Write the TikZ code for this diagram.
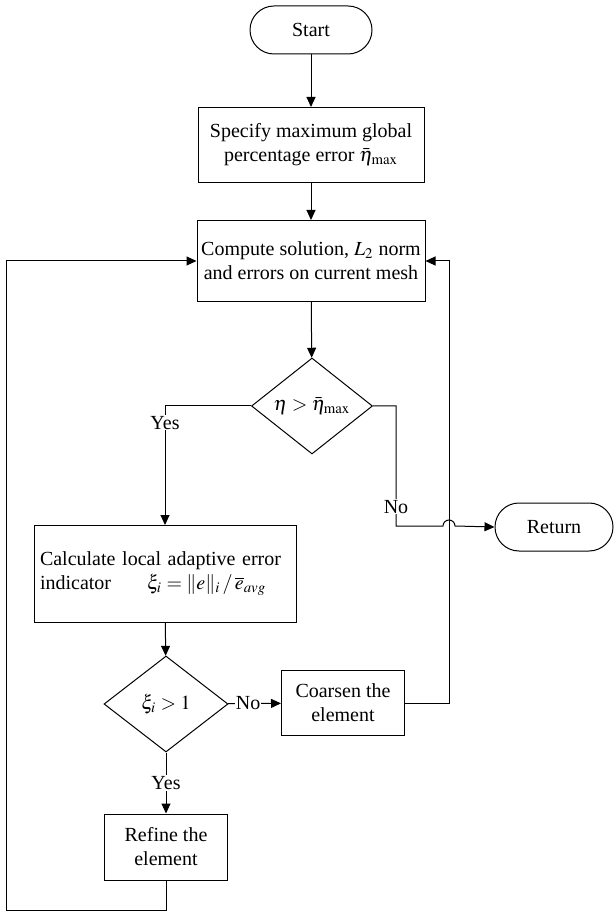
\documentclass[tikz,border=0pt]{standalone}
\usepackage{mathptmx}
\usepackage[no-math]{fontspec}
\setmainfont{Liberation Serif}
\usepackage{tikz}
\usetikzlibrary{arrows.meta,shapes,positioning,calc}
\tikzstyle{block}=[draw, rectangle, align=center, inner sep=2pt, line width=0.5pt]
\tikzstyle{term}=[draw, rectangle, rounded corners=12pt, minimum height=24pt, line width=0.5pt]
\tikzstyle{decide}=[draw, diamond, inner sep=0pt, line width=0.5pt]
\tikzstyle{arr}=[line width=0.5pt, -{Triangle[length=5pt,width=4.5pt]}]
\tikzstyle{lbl}=[fill=white, inner sep=0.5pt]

\begin{document}
\begin{tikzpicture}[x=0.5pt,y=-0.5pt,font=\fontsize{10}{12}\selectfont]
				\useasboundingbox(0,0)rectangle(614,913);
				\node[term, minimum width=61pt](start)at(311,30){Start};
				\node[block, minimum width=113pt, minimum height=37.5pt](spec)at(311,145){Specify maximum global\\ percentage error $\bar{\eta}_{\mathrm{max}}$};
				\node[block, minimum width=114pt, minimum height=40.5pt](comp)at(311,261){Compute solution, $L_2$ norm\\ and errors on current mesh};
				\node[decide, minimum width=60.5pt, minimum height=48pt](chk)at(312,406){$\eta>\bar{\eta}_{\mathrm{max}}$};
				\node[term, minimum width=59pt](ret)at(554,527){Return};
				\node[block, minimum width=131pt, minimum height=48.5pt, text width=125pt, align=left, inner sep=3pt](calc)at(165,574){Calculate local adaptive error\\ indicator\hspace{18pt}$\xi_i=\|e\|_i\,/\,\overline{e}_{avg}$};
				\node[decide, minimum width=62pt, minimum height=48pt](ind)at(166,704){$\xi_i>1$};
				\node[block, minimum width=61.5pt, minimum height=32.5pt](coarse)at(343,703){Coarsen the\\ element};
				\node[block, minimum width=61.5pt, minimum height=33pt](refine)at(166,847){Refine the\\ element};
				\coordinate(nocorner)at(396,526);
				\coordinate(rtop)at(449,261);
				\coordinate(hop)at(rtop|-nocorner);
				\coordinate(lbot)at(6,910);
				\draw[arr](start)--(spec);
				\draw[arr](spec)--(comp);
				\draw[arr](comp)--(chk);
				\draw[arr](chk.west)-|node[pos=0.57, lbl]{Yes}(calc.north);
				\draw[arr](chk.east)-|node[pos=0.92, lbl]{No}(nocorner)--([xshift=-3pt]hop)arc[start angle=180, end angle=0, radius=3pt]--(ret.west);
				\draw[arr](calc)--(ind);
				\draw[arr](ind)--(coarse)node[pos=0.38, lbl]{No};
				\draw[arr](ind)--(refine)node[pos=0.5, lbl]{Yes};
				\draw[arr](coarse.east)-|(rtop)--(comp.east);
				\draw[arr](refine.south)|-(lbot)|-(comp.west);
			\end{tikzpicture}
\end{document}
